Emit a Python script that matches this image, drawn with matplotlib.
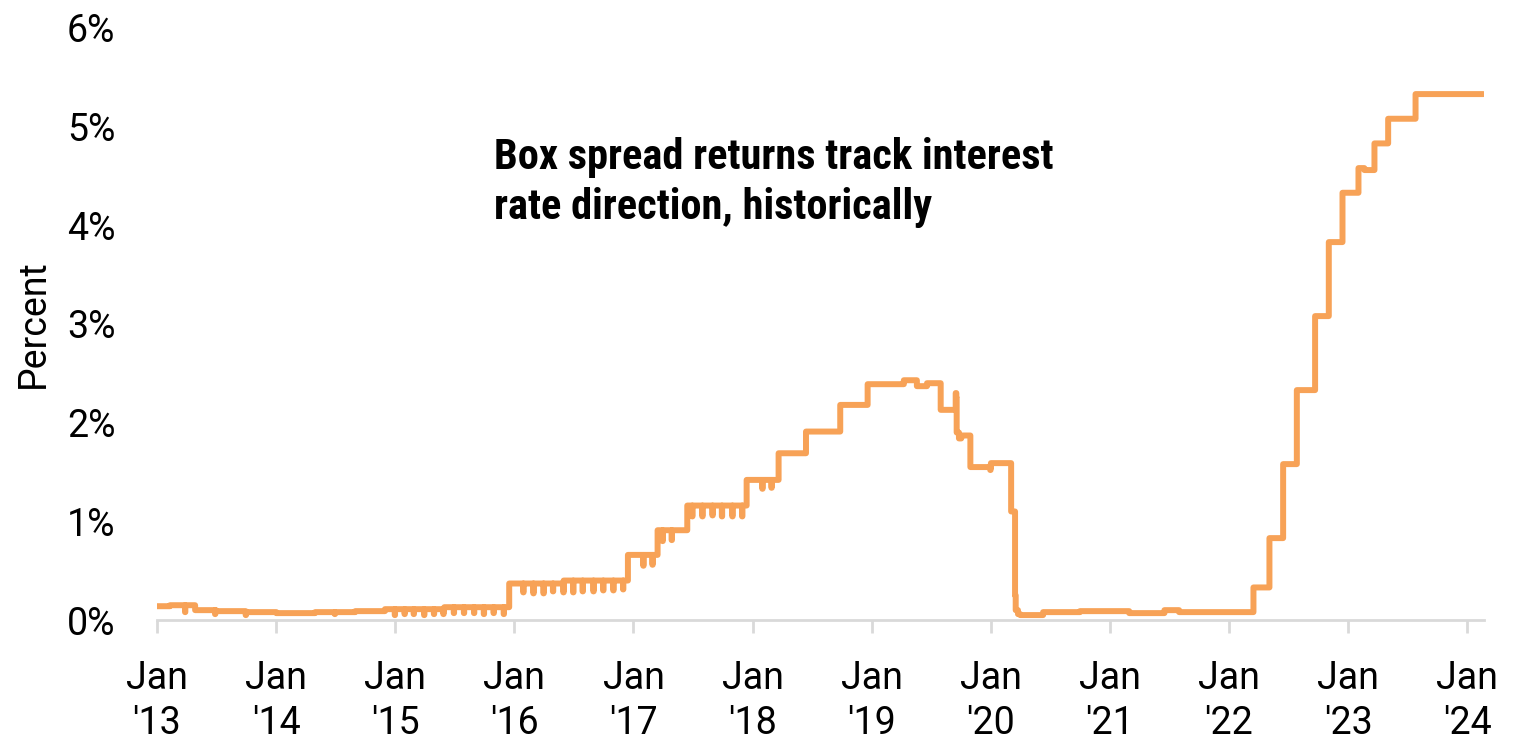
import numpy as np
import pandas as pd
import matplotlib
matplotlib.use("Agg")
import matplotlib.pyplot as plt
import matplotlib.dates as mdates

# Step levels (date the level starts, percent)
step_dates = [
    "2013-01-01", "2013-02-10", "2013-04-28", "2013-07-01", "2013-10-01",
    "2014-01-02", "2014-05-01", "2014-09-01", "2014-12-01", "2015-03-01",
    "2015-06-01", "2015-12-17", "2016-06-01", "2016-12-15", "2017-03-16",
    "2017-06-15", "2017-12-14", "2018-03-22", "2018-06-14", "2018-09-27",
    "2018-12-20", "2019-04-10", "2019-05-20", "2019-06-20", "2019-08-01",
    "2019-09-16", "2019-09-18", "2019-09-19", "2019-09-26", "2019-10-03",
    "2019-10-31", "2020-01-02", "2020-03-04", "2020-03-16", "2020-03-18",
    "2020-03-25", "2020-04-01", "2020-06-10", "2020-10-01", "2021-03-01",
    "2021-06-17", "2021-08-01", "2021-10-01", "2022-03-17", "2022-05-05",
    "2022-06-16", "2022-07-28", "2022-09-22", "2022-11-03", "2022-12-15",
    "2023-02-02", "2023-02-20", "2023-03-23", "2023-05-04", "2023-07-27",
    "2024-02-20",
]
step_levels = [
    0.14, 0.15, 0.10, 0.09, 0.08,
    0.07, 0.08, 0.09, 0.11, 0.11,
    0.13, 0.37, 0.40, 0.66, 0.91,
    1.16, 1.42, 1.69, 1.91, 2.18,
    2.39, 2.43, 2.37, 2.40, 2.13,
    2.30, 2.25, 1.90, 1.84, 1.87,
    1.55, 1.59, 1.10, 0.25, 0.10,
    0.06, 0.05, 0.08, 0.09, 0.07,
    0.10, 0.08, 0.08, 0.33, 0.83,
    1.58, 2.33, 3.08, 3.83, 4.33,
    4.58, 4.56, 4.83, 5.08, 5.33,
    5.33,
]

# Month-end dips
dip_dates = [
    "2013-03-28", "2013-06-28", "2013-09-30", "2014-06-30", "2014-12-31",
    "2015-01-30", "2015-02-27", "2015-03-31", "2015-04-30", "2015-05-29",
    "2015-06-30", "2015-07-31", "2015-08-31", "2015-09-30", "2015-10-30",
    "2015-11-30", "2016-01-29", "2016-02-29", "2016-03-31", "2016-04-29",
    "2016-05-31", "2016-06-30", "2016-07-29", "2016-08-31", "2016-09-30",
    "2016-10-31", "2016-11-30", "2017-01-31", "2017-02-28", "2017-03-31",
    "2017-04-28", "2017-06-30", "2017-07-31", "2017-08-31", "2017-09-29",
    "2017-10-31", "2017-11-30", "2018-01-31", "2018-02-28", "2019-12-31",
]
dip_levels = [
    0.08, 0.06, 0.05, 0.06, 0.05,
    0.06, 0.06, 0.05, 0.06, 0.06,
    0.07, 0.07, 0.07, 0.06, 0.07,
    0.06, 0.28, 0.27, 0.27, 0.29,
    0.28, 0.28, 0.29, 0.29, 0.30,
    0.30, 0.31, 0.55, 0.56, 0.80,
    0.81, 1.05, 1.05, 1.06, 1.05,
    1.05, 1.05, 1.33, 1.34, 1.52,
]

year_ticks = list(range(2013, 2025))
tick_labels = [f"Jan\n'{y % 100:02d}" for y in year_ticks]

title_text = "Box spread returns track interest\nrate direction, historically"

levels = pd.Series(step_levels, index=pd.to_datetime(step_dates))
days = pd.date_range(levels.index[0], levels.index[-1], freq="D")
rate = levels.reindex(days).ffill()
rate.loc[pd.to_datetime(dip_dates)] = dip_levels

plt.rcParams["font.family"] = ["Roboto", "DejaVu Sans"]

fig = plt.figure(figsize=(15.21, 7.42), dpi=100)
ax = fig.add_axes([0.1032, 0.1644, 0.8725, 0.7979])

ax.plot(rate.index, rate.values, color="#F7A257", lw=4.3,
        drawstyle="steps-post", solid_joinstyle="round", solid_capstyle="round")

ax.set_xlim(pd.Timestamp("2013-01-01"), pd.Timestamp("2024-02-22"))
ax.set_ylim(0, 6)
ax.set_yticks(range(0, 7))
ax.set_yticklabels([f"{v}%" for v in range(0, 7)])
ax.set_xticks([pd.Timestamp(f"{y}-01-01") for y in year_ticks])
ax.set_xticklabels(tick_labels, linespacing=1.25)

for side in ["top", "right", "left"]:
    ax.spines[side].set_visible(False)
ax.spines["bottom"].set_color("#d9d9d9")
ax.spines["bottom"].set_linewidth(2)

ax.tick_params(axis="x", length=9, width=2, color="#d9d9d9", pad=20, labelsize=27)
ax.tick_params(axis="y", length=0, pad=30, labelsize=27)
ax.set_ylabel("Percent", fontsize=27)
ax.yaxis.set_label_coords(-0.079, 0.5)

ax.text(pd.Timestamp("2015-11-01"), 4.9, title_text, fontsize=30.5,
        fontweight="bold", family=["Roboto Condensed", "Roboto"],
        va="top", ha="left", linespacing=1.3)

fig.savefig("out.png", dpi=100)
